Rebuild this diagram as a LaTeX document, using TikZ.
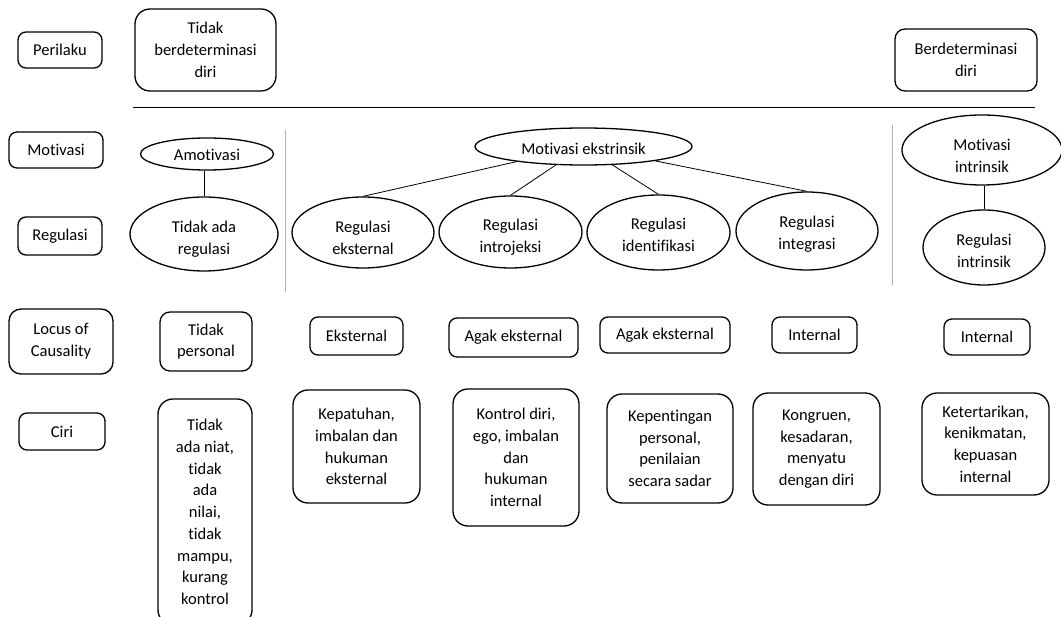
\documentclass[tikz,border=0pt]{standalone}
\usepackage{fontspec}
\setmainfont{Carlito}[Ligatures={NoCommon,NoContextual},RawFeature={-liga;-clig;-dlig;-calt}]
\usetikzlibrary{shapes.geometric}
\begin{document}
\begin{tikzpicture}[x=1pt,y=-1pt,
  every node/.style={font=\fontsize{16.5}{21.7}\selectfont, align=center, inner sep=0pt},
  lbox/.style={draw, line width=1.3pt, rounded corners=8pt},
  bigbox/.style={draw, line width=1.3pt, rounded corners=15pt},
  ell/.style={draw, ellipse, line width=1.3pt},
  conn/.style={line width=0.8pt},
  sepline/.style={line width=1pt, black!30}]
\useasboundingbox (0,0) rectangle (1061,617);
\clip (0,0) rectangle (1061,617);
% left labels
\node[lbox, minimum width=84pt, minimum height=36pt] (perilaku) at (60,50) {Perilaku};
\node[lbox, minimum width=94pt, minimum height=36pt] (motivasi) at (56,150) {Motivasi};
\node[lbox, minimum width=84pt, minimum height=38pt] (regulasi) at (60,236) {Regulasi};
\node[lbox, rounded corners=12pt, minimum width=104pt, minimum height=65pt] (locus) at (61,341.5) {Locus of\\Causality};
\node[lbox, minimum width=86pt, minimum height=37pt] (ciri) at (62,431.5) {Ciri};
% top row
\node[bigbox, minimum width=141pt, minimum height=82pt] (tbd) at (205.5,50) {Tidak\\berdeterminasi\\diri};
\node[lbox, rounded corners=10pt, minimum width=142pt, minimum height=62pt] (bd) at (966,60) {Berdeterminasi\\diri};
\coordinate (hl1) at (133,107);
\coordinate (hl2) at (1035,107);
\draw[conn] (hl1) -- (hl2);
% separators
\coordinate (v1a) at (285,130);
\coordinate (v1b) at (285,292);
\coordinate (v2a) at (892,125);
\coordinate (v2b) at (892,285);
\draw[sepline] (v1a) -- (v1b);
\draw[sepline] (v2a) -- (v2b);
% motivation / regulation
\node[ell, minimum width=133pt, minimum height=32pt, label={[yshift=-1pt]center:Amotivasi}] (amot) at (207,154) {};
\node[ell, minimum width=148pt, minimum height=74pt, label={[yshift=-5pt]center:{Tidak ada\\regulasi}}] (tar) at (204,234) {};
\draw[conn] (amot.south -| tar.north) -- (tar.north);
\node[ell, minimum width=217pt, minimum height=37pt, label={[yshift=-2pt]center:Motivasi ekstrinsik}] (me) at (583.5,146.5) {};
\node[ell, minimum width=142pt, minimum height=71pt, label={[yshift=-5pt]center:{Regulasi\\eksternal}}] (re1) at (363,232.5) {};
\node[ell, minimum width=143pt, minimum height=72pt, label={[yshift=-5pt]center:{Regulasi\\introjeksi}}] (re2) at (510.5,232) {};
\node[ell, minimum width=143pt, minimum height=75pt, label={[yshift=-2pt]center:{Regulasi\\identifikasi}}] (re3) at (658.5,232.5) {};
\node[ell, minimum width=142pt, minimum height=78pt, label={[yshift=-3pt]center:{Regulasi\\integrasi}}] (re4) at (807,231) {};
\draw[conn] (me) -- (re1.north);
\draw[conn] (me) -- (re2.north);
\draw[conn] (me) -- (re3.north);
\draw[conn] (me) -- (re4.north);
\node[ell, minimum width=160pt, minimum height=70pt, label={[yshift=-6pt]center:{Motivasi\\intrinsik}}] (mi) at (982,150) {};
\node[ell, minimum width=122pt, minimum height=75pt, label={[yshift=-3pt]center:{Regulasi\\intrinsik}}] (ri) at (984,247.5) {};
\draw[conn] (mi.south -| ri.north) -- (ri.north);
% locus row
\node[lbox, rounded corners=10pt, minimum width=92pt, minimum height=59pt] (tp) at (206,341.5) {Tidak\\personal};
\node[lbox, minimum width=93pt, minimum height=38pt] (ek) at (356.5,336) {Eksternal};
\node[lbox, minimum width=129pt, minimum height=39pt] (ag1) at (513.5,337.5) {Agak eksternal};
\node[lbox, minimum width=130pt, minimum height=36pt] (ag2) at (665,335) {Agak eksternal};
\node[lbox, minimum width=85pt, minimum height=36pt] (in1) at (814.5,335) {Internal};
\node[lbox, minimum width=86pt, minimum height=36pt] (in2) at (987,337) {Internal};
% ciri row
\node[bigbox, minimum width=94pt, minimum height=226pt] (tan) at (205,512) {Tidak\\ada niat,\\tidak\\ada\\nilai,\\tidak\\mampu,\\kurang\\kontrol};
\node[bigbox, minimum width=127pt, minimum height=113pt] (kep) at (356.5,446.5) {Kepatuhan,\\imbalan dan\\hukuman\\eksternal};
\node[bigbox, minimum width=126pt, minimum height=137pt] (kon) at (516,457.5) {Kontrol diri,\\ego, imbalan\\dan\\hukuman\\internal};
\node[bigbox, minimum width=126pt, minimum height=109pt] (kpt) at (670,448.5) {Kepentingan\\personal,\\penilaian\\secara sadar};
\node[bigbox, minimum width=127pt, minimum height=112pt] (kng) at (816.5,449) {Kongruen,\\kesadaran,\\menyatu\\dengan diri};
\node[bigbox, minimum width=127pt, minimum height=102pt] (ktt) at (985.5,444) {Ketertarikan,\\kenikmatan,\\kepuasan\\internal};
\end{tikzpicture}
\end{document}
